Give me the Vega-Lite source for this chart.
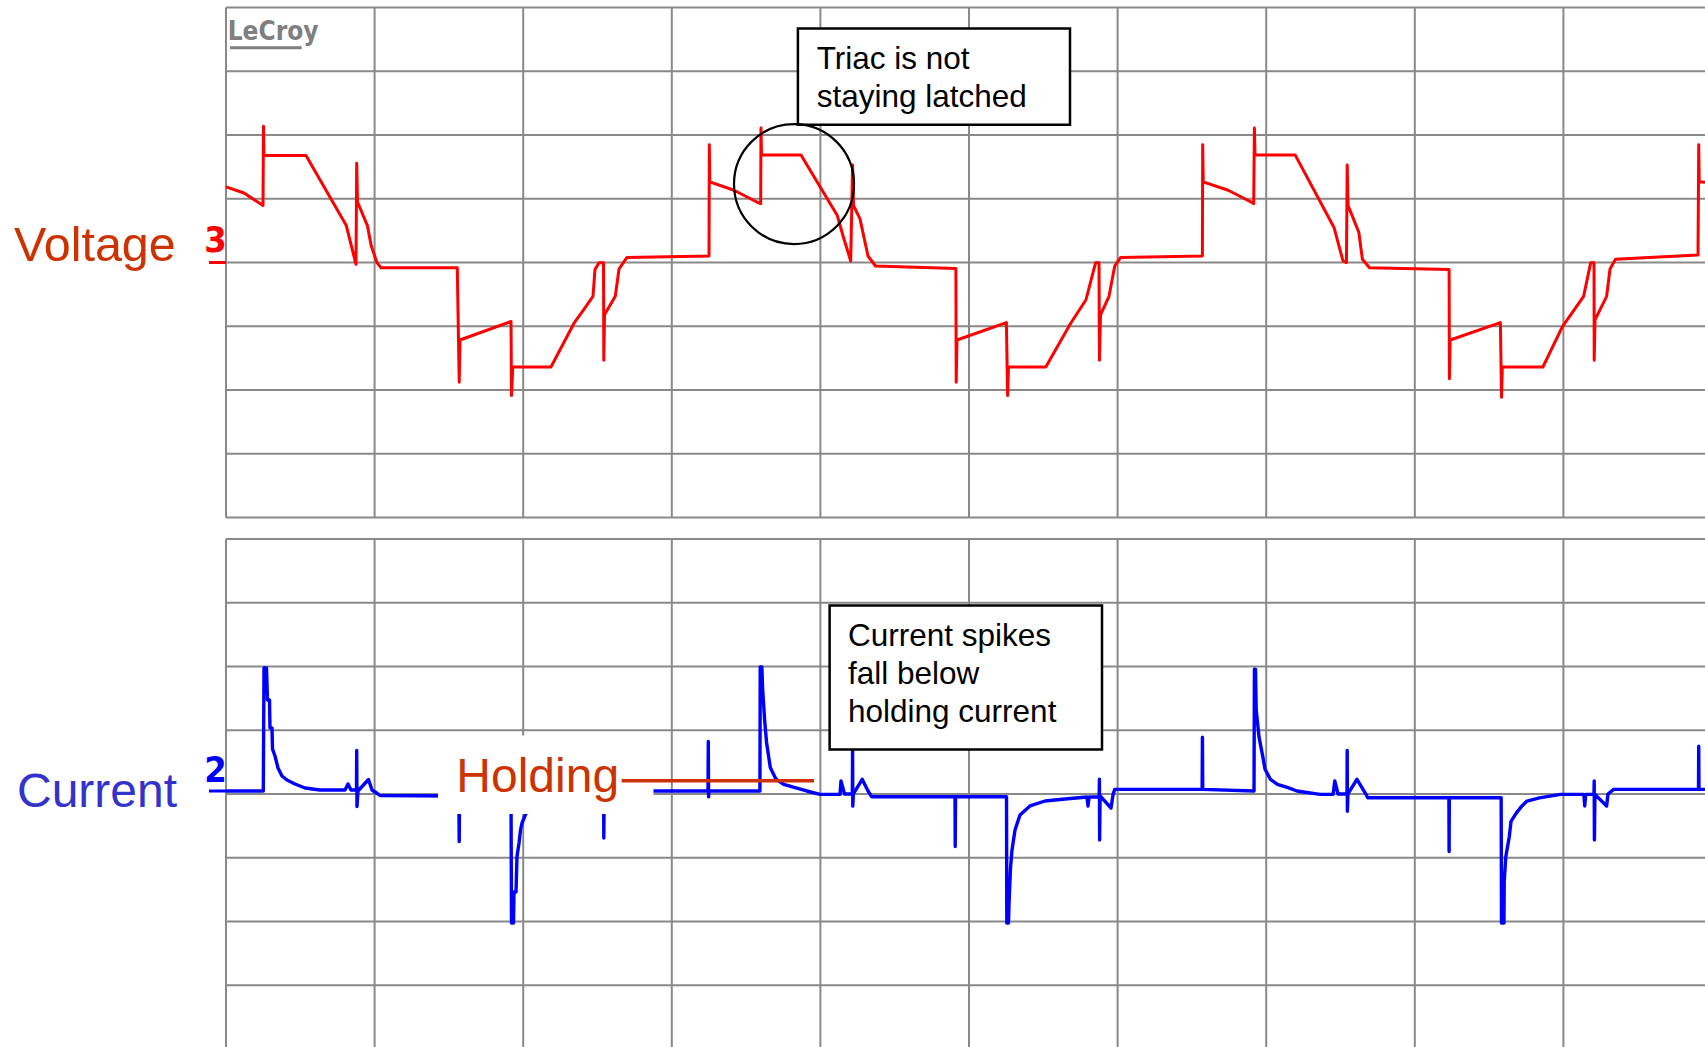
{
  "$schema": "https://vega.github.io/schema/vega-lite/v6.json",
  "description": "Triac voltage and current capture, 5 ms/div, two stacked scope panels (values in screen divisions).",
  "width": 1705,
  "height": 1047,
  "autosize": {"type": "none"},
  "padding": 0,
  "background": "#ffffff",
  "config": {"view": {"stroke": null}, "text": {"font": "Liberation Sans"}},
  "datasets": {
    "time_ticks": [{"t": 0}, {"t": 5}, {"t": 10}, {"t": 15}, {"t": 20}, {"t": 25}, {"t": 30}, {"t": 35}, {"t": 40}, {"t": 45}, {"t": 50}],
    "div_ticks": [{"d": -4}, {"d": -3}, {"d": -2}, {"d": -1}, {"d": 0}, {"d": 1}, {"d": 2}, {"d": 3}, {"d": 4}],
    "voltage": [
      {"t": 0, "v": 1.186}, {"t": 0.606, "v": 1.09}, {"t": 1.245, "v": 0.896}, {"t": 1.262, "v": 2.136}, {"t": 1.278, "v": 1.677},
      {"t": 2.692, "v": 1.677}, {"t": 4.048, "v": 0.579}, {"t": 4.374, "v": -0.028}, {"t": 4.398, "v": 1.556}, {"t": 4.425, "v": 0.949},
      {"t": 4.758, "v": 0.579}, {"t": 4.886, "v": 0.262}, {"t": 5.08, "v": -0.002}, {"t": 5.215, "v": -0.082}, {"t": 7.782, "v": -0.082},
      {"t": 7.847, "v": -1.878}, {"t": 7.874, "v": -1.216}, {"t": 9.59, "v": -0.925}, {"t": 9.606, "v": -2.088}, {"t": 9.65, "v": -1.639},
      {"t": 10.935, "v": -1.639}, {"t": 11.709, "v": -0.952}, {"t": 12.032, "v": -0.742}, {"t": 12.348, "v": -0.53}, {"t": 12.416, "v": -0.108},
      {"t": 12.55, "v": -0.002}, {"t": 12.702, "v": -0.002}, {"t": 12.712, "v": -1.534}, {"t": 12.736, "v": -0.82}, {"t": 13.099, "v": -0.53},
      {"t": 13.224, "v": -0.102}, {"t": 13.486, "v": 0.077}, {"t": 16.252, "v": 0.104}, {"t": 16.262, "v": 1.846}, {"t": 16.279, "v": 1.266},
      {"t": 17.093, "v": 1.134}, {"t": 17.864, "v": 0.949}, {"t": 17.991, "v": 0.922}, {"t": 18.001, "v": 2.11}, {"t": 18.018, "v": 1.688},
      {"t": 19.347, "v": 1.688}, {"t": 20.569, "v": 0.737}, {"t": 20.76, "v": 0.42}, {"t": 21.02, "v": 0.024}, {"t": 21.083, "v": 1.529},
      {"t": 21.114, "v": 0.896}, {"t": 21.332, "v": 0.684}, {"t": 21.602, "v": 0.102}, {"t": 21.854, "v": -0.055}, {"t": 24.559, "v": -0.093},
      {"t": 24.569, "v": -1.878}, {"t": 24.596, "v": -1.216}, {"t": 26.258, "v": -0.943}, {"t": 26.299, "v": -2.088}, {"t": 26.329, "v": -1.639},
      {"t": 27.584, "v": -1.639}, {"t": 28.422, "v": -0.952}, {"t": 28.937, "v": -0.584}, {"t": 29.26, "v": -0.002}, {"t": 29.374, "v": -0.002},
      {"t": 29.388, "v": -1.534}, {"t": 29.425, "v": -0.82}, {"t": 29.711, "v": -0.53}, {"t": 29.903, "v": -0.055}, {"t": 30.098, "v": 0.077},
      {"t": 32.853, "v": 0.104}, {"t": 32.863, "v": 1.846}, {"t": 32.88, "v": 1.266}, {"t": 33.72, "v": 1.134}, {"t": 34.49, "v": 0.949},
      {"t": 34.579, "v": 0.922}, {"t": 34.603, "v": 2.11}, {"t": 34.623, "v": 1.688}, {"t": 35.973, "v": 1.688}, {"t": 37.281, "v": 0.55},
      {"t": 37.584, "v": 0.024}, {"t": 37.7, "v": 0.0}, {"t": 37.725, "v": 1.529}, {"t": 37.753, "v": 0.896}, {"t": 38.116, "v": 0.474},
      {"t": 38.237, "v": 0.05}, {"t": 38.476, "v": -0.082}, {"t": 41.154, "v": -0.108}, {"t": 41.164, "v": -1.824}, {"t": 41.191, "v": -1.216},
      {"t": 42.88, "v": -0.943}, {"t": 42.917, "v": -2.115}, {"t": 42.944, "v": -1.639}, {"t": 44.31, "v": -1.639}, {"t": 44.966, "v": -1.005},
      {"t": 45.68, "v": -0.53}, {"t": 45.918, "v": -0.002}, {"t": 46.03, "v": -0.002}, {"t": 46.036, "v": -1.534}, {"t": 46.063, "v": -0.9},
      {"t": 46.454, "v": -0.53}, {"t": 46.568, "v": -0.102}, {"t": 46.753, "v": 0.05}, {"t": 49.529, "v": 0.119}, {"t": 49.553, "v": 1.846},
      {"t": 49.569, "v": 1.266}, {"t": 50.0, "v": 1.25}
    ],
    "current": [
      {"t": 0, "c": 0.047}, {"t": 1.255, "c": 0.047}, {"t": 1.279, "c": 1.976}, {"t": 1.363, "c": 1.976}, {"t": 1.396, "c": 1.475},
      {"t": 1.464, "c": 1.475}, {"t": 1.48, "c": 1.035}, {"t": 1.548, "c": 1.035}, {"t": 1.565, "c": 0.706}, {"t": 1.649, "c": 0.596},
      {"t": 1.75, "c": 0.408}, {"t": 1.884, "c": 0.282}, {"t": 2.052, "c": 0.22}, {"t": 2.322, "c": 0.157}, {"t": 2.658, "c": 0.094},
      {"t": 3.163, "c": 0.063}, {"t": 4.004, "c": 0.063}, {"t": 4.105, "c": 0.157}, {"t": 4.206, "c": 0.063}, {"t": 4.391, "c": 0.063},
      {"t": 4.398, "c": 0.681}, {"t": 4.408, "c": -0.196}, {"t": 4.441, "c": 0.047}, {"t": 4.795, "c": 0.227}, {"t": 4.913, "c": 0.063},
      {"t": 5.114, "c": 0.0}, {"t": 5.182, "c": -0.024}, {"t": 7.835, "c": -0.031}, {"t": 7.847, "c": -0.747}, {"t": 7.857, "c": -0.031},
      {"t": 9.59, "c": -0.031}, {"t": 9.606, "c": -2.024}, {"t": 9.674, "c": -2.024}, {"t": 9.69, "c": -1.537}, {"t": 9.758, "c": -1.537},
      {"t": 9.791, "c": -0.984}, {"t": 9.859, "c": -0.769}, {"t": 9.91, "c": -0.565}, {"t": 9.96, "c": -0.455}, {"t": 10.094, "c": -0.303},
      {"t": 10.296, "c": -0.188}, {"t": 10.565, "c": -0.11}, {"t": 11.07, "c": -0.063}, {"t": 11.743, "c": -0.031}, {"t": 12.698, "c": -0.016},
      {"t": 12.705, "c": 0.22}, {"t": 12.712, "c": -0.69}, {"t": 12.725, "c": 0.0}, {"t": 14.384, "c": 0.047}, {"t": 16.218, "c": 0.047},
      {"t": 16.228, "c": 0.824}, {"t": 16.238, "c": -0.044}, {"t": 16.25, "c": 0.047}, {"t": 17.965, "c": 0.047}, {"t": 17.975, "c": 1.991},
      {"t": 18.03, "c": 1.991}, {"t": 18.055, "c": 1.657}, {"t": 18.123, "c": 1.161}, {"t": 18.187, "c": 0.813}, {"t": 18.314, "c": 0.416},
      {"t": 18.506, "c": 0.231}, {"t": 18.765, "c": 0.152}, {"t": 19.145, "c": 0.099}, {"t": 19.539, "c": 0.047}, {"t": 19.987, "c": -0.006},
      {"t": 20.66, "c": -0.006}, {"t": 20.693, "c": 0.204}, {"t": 20.811, "c": 0.0}, {"t": 21.075, "c": 0.0}, {"t": 21.083, "c": 0.69},
      {"t": 21.09, "c": -0.191}, {"t": 21.11, "c": 0.0}, {"t": 21.406, "c": 0.231}, {"t": 21.602, "c": 0.047}, {"t": 21.726, "c": -0.044},
      {"t": 24.529, "c": -0.044}, {"t": 24.536, "c": -0.825}, {"t": 24.546, "c": -0.044}, {"t": 26.262, "c": -0.044}, {"t": 26.272, "c": -2.024},
      {"t": 26.329, "c": -2.024}, {"t": 26.346, "c": -1.725}, {"t": 26.396, "c": -1.161}, {"t": 26.447, "c": -0.878}, {"t": 26.548, "c": -0.565},
      {"t": 26.716, "c": -0.329}, {"t": 27.052, "c": -0.188}, {"t": 27.557, "c": -0.11}, {"t": 28.23, "c": -0.078}, {"t": 28.97, "c": -0.047},
      {"t": 29.004, "c": -0.188}, {"t": 29.04, "c": -0.047}, {"t": 29.38, "c": -0.047}, {"t": 29.388, "c": 0.231}, {"t": 29.395, "c": -0.72},
      {"t": 29.41, "c": -0.03}, {"t": 29.778, "c": -0.22}, {"t": 29.85, "c": 0.0}, {"t": 29.903, "c": 0.072}, {"t": 32.844, "c": 0.072},
      {"t": 32.854, "c": 0.891}, {"t": 32.864, "c": 0.072}, {"t": 34.59, "c": 0.047}, {"t": 34.603, "c": 1.958}, {"t": 34.64, "c": 1.958},
      {"t": 34.664, "c": 1.315}, {"t": 34.758, "c": 0.891}, {"t": 34.879, "c": 0.601}, {"t": 34.96, "c": 0.389}, {"t": 35.141, "c": 0.231},
      {"t": 35.377, "c": 0.152}, {"t": 35.734, "c": 0.099}, {"t": 36.033, "c": 0.047}, {"t": 36.81, "c": -0.006}, {"t": 37.25, "c": -0.006},
      {"t": 37.308, "c": 0.204}, {"t": 37.416, "c": 0.0}, {"t": 37.718, "c": 0.0}, {"t": 37.725, "c": 0.681}, {"t": 37.732, "c": -0.271},
      {"t": 37.75, "c": 0.0}, {"t": 38.055, "c": 0.231}, {"t": 38.358, "c": -0.006}, {"t": 38.415, "c": -0.06}, {"t": 41.147, "c": -0.06},
      {"t": 41.154, "c": -0.904}, {"t": 41.161, "c": -0.06}, {"t": 42.905, "c": -0.06}, {"t": 42.917, "c": -2.024}, {"t": 43.0, "c": -2.024},
      {"t": 43.008, "c": -1.38}, {"t": 43.062, "c": -0.984}, {"t": 43.18, "c": -0.667}, {"t": 43.237, "c": -0.43}, {"t": 43.419, "c": -0.296},
      {"t": 43.597, "c": -0.191}, {"t": 43.775, "c": -0.111}, {"t": 44.193, "c": -0.06}, {"t": 44.906, "c": -0.006}, {"t": 45.69, "c": -0.006},
      {"t": 45.717, "c": -0.188}, {"t": 45.75, "c": -0.006}, {"t": 46.03, "c": -0.006}, {"t": 46.036, "c": 0.204}, {"t": 46.043, "c": -0.72},
      {"t": 46.06, "c": -0.006}, {"t": 46.454, "c": -0.188}, {"t": 46.5, "c": 0.0}, {"t": 46.692, "c": 0.072}, {"t": 49.545, "c": 0.072},
      {"t": 49.553, "c": 0.748}, {"t": 49.561, "c": 0.072}, {"t": 50.0, "c": 0.072}
    ]
  },
  "resolve": {"scale": {"y": "independent"}},
  "layer": [
    {
      "description": "voltage panel: vertical divisions",
      "data": {"name": "time_ticks"},
      "mark": {"type": "rule", "color": "#898989", "strokeWidth": 2},
      "encoding": {
        "x": {"field": "t", "type": "quantitative", "scale": {"domain": [-7.604, 49.764], "nice": false, "zero": false}, "axis": null},
        "y": {"datum": -4, "type": "quantitative", "scale": {"domain": [-12.306, 4.118], "nice": false, "zero": false}, "axis": null},
        "y2": {"datum": 4}
      }
    },
    {
      "description": "voltage panel: horizontal divisions",
      "data": {"name": "div_ticks"},
      "mark": {"type": "rule", "color": "#898989", "strokeWidth": 2},
      "encoding": {
        "x": {"datum": 0, "type": "quantitative", "scale": {"domain": [-7.604, 49.764], "nice": false, "zero": false}, "axis": null},
        "x2": {"datum": 50},
        "y": {"field": "d", "type": "quantitative", "scale": {"domain": [-12.306, 4.118], "nice": false, "zero": false}, "axis": null}
      }
    },
    {
      "description": "current panel: vertical divisions",
      "data": {"name": "time_ticks"},
      "mark": {"type": "rule", "color": "#898989", "strokeWidth": 2},
      "encoding": {
        "x": {"field": "t", "type": "quantitative", "scale": {"domain": [-7.604, 49.764], "nice": false, "zero": false}, "axis": null},
        "y": {"datum": -4, "type": "quantitative", "scale": {"domain": [-3.969, 12.455], "nice": false, "zero": false}, "axis": null},
        "y2": {"datum": 4}
      }
    },
    {
      "description": "current panel: horizontal divisions",
      "data": {"name": "div_ticks"},
      "mark": {"type": "rule", "color": "#898989", "strokeWidth": 2},
      "encoding": {
        "x": {"datum": 0, "type": "quantitative", "scale": {"domain": [-7.604, 49.764], "nice": false, "zero": false}, "axis": null},
        "x2": {"datum": 50},
        "y": {"field": "d", "type": "quantitative", "scale": {"domain": [-3.969, 12.455], "nice": false, "zero": false}, "axis": null}
      }
    },
    {
      "description": "channel 3: voltage trace",
      "data": {"name": "voltage"},
      "mark": {"type": "line", "color": "#ff0000", "strokeWidth": 3, "strokeJoin": "round"},
      "encoding": {
        "x": {"field": "t", "type": "quantitative", "scale": {"domain": [-7.604, 49.764], "nice": false, "zero": false}, "axis": null},
        "y": {"field": "v", "type": "quantitative", "scale": {"domain": [-12.306, 4.118], "nice": false, "zero": false}, "axis": null}
      }
    },
    {
      "description": "channel 2: current trace",
      "data": {"name": "current"},
      "mark": {"type": "line", "color": "#0000ff", "strokeWidth": 3.4, "strokeJoin": "round"},
      "encoding": {
        "x": {"field": "t", "type": "quantitative", "scale": {"domain": [-7.604, 49.764], "nice": false, "zero": false}, "axis": null},
        "y": {"field": "c", "type": "quantitative", "scale": {"domain": [-3.969, 12.455], "nice": false, "zero": false}, "axis": null}
      }
    },
    {
      "description": "white backing behind the Holding label",
      "data": {"values": [{}]},
      "mark": {"type": "rect", "fill": "#ffffff"},
      "encoding": {
        "x": {"datum": 7.133, "type": "quantitative", "scale": {"domain": [-7.604, 49.764], "nice": false, "zero": false}, "axis": null},
        "x2": {"datum": 14.384},
        "y": {"datum": 0.918, "type": "quantitative", "scale": {"domain": [-3.969, 12.455], "nice": false, "zero": false}, "axis": null},
        "y2": {"datum": -0.314}
      }
    },
    {
      "description": "holding current level",
      "data": {"values": [{"from": 13.314, "to": 19.785, "level": 0.209}]},
      "mark": {"type": "rule", "color": "#cc3300", "strokeWidth": 3.5},
      "encoding": {
        "x": {"field": "from", "type": "quantitative", "scale": {"domain": [-7.604, 49.764], "nice": false, "zero": false}, "axis": null},
        "x2": {"field": "to"},
        "y": {"field": "level", "type": "quantitative", "scale": {"domain": [-3.969, 12.455], "nice": false, "zero": false}, "axis": null}
      }
    },
    {
      "description": "Holding label",
      "data": {"values": [{"label": "Holding", "t": 7.749, "c": 0.036}]},
      "mark": {"type": "text", "align": "left", "baseline": "alphabetic", "fontSize": 48, "color": "#cc3300"},
      "encoding": {
        "x": {"field": "t", "type": "quantitative", "scale": {"domain": [-7.604, 49.764], "nice": false, "zero": false}, "axis": null},
        "y": {"field": "c", "type": "quantitative", "scale": {"domain": [-3.969, 12.455], "nice": false, "zero": false}, "axis": null},
        "text": {"field": "label"}
      }
    },
    {
      "description": "callout box, voltage panel",
      "data": {"values": [{"t": 19.243, "t2": 28.398, "v": 3.669, "v2": 2.16}]},
      "mark": {"type": "rect", "fill": "#ffffff", "stroke": "#000000", "strokeWidth": 2.5},
      "encoding": {
        "x": {"field": "t", "type": "quantitative", "scale": {"domain": [-7.604, 49.764], "nice": false, "zero": false}, "axis": null},
        "x2": {"field": "t2"},
        "y": {"field": "v", "type": "quantitative", "scale": {"domain": [-12.306, 4.118], "nice": false, "zero": false}, "axis": null},
        "y2": {"field": "v2"}
      }
    },
    {
      "description": "callout text, voltage panel",
      "data": {"values": [{"line": "Triac is not", "t": 19.876, "v": 3.035}, {"line": "staying latched", "t": 19.876, "v": 2.439}]},
      "mark": {"type": "text", "align": "left", "baseline": "alphabetic", "fontSize": 31.5, "color": "#000000"},
      "encoding": {
        "x": {"field": "t", "type": "quantitative", "scale": {"domain": [-7.604, 49.764], "nice": false, "zero": false}, "axis": null},
        "y": {"field": "v", "type": "quantitative", "scale": {"domain": [-12.306, 4.118], "nice": false, "zero": false}, "axis": null},
        "text": {"field": "line"}
      }
    },
    {
      "description": "ring around the unlatching edge",
      "data": {"values": [{"t": 19.112, "v": 1.231}]},
      "mark": {"type": "point", "shape": "circle", "filled": false, "size": 14400, "stroke": "#000000", "strokeWidth": 2.2, "opacity": 1},
      "encoding": {
        "x": {"field": "t", "type": "quantitative", "scale": {"domain": [-7.604, 49.764], "nice": false, "zero": false}, "axis": null},
        "y": {"field": "v", "type": "quantitative", "scale": {"domain": [-12.306, 4.118], "nice": false, "zero": false}, "axis": null}
      }
    },
    {
      "description": "callout box, current panel",
      "data": {"values": [{"t": 20.31, "t2": 29.475, "c": 2.957, "c2": 0.698}]},
      "mark": {"type": "rect", "fill": "#ffffff", "stroke": "#000000", "strokeWidth": 2.5},
      "encoding": {
        "x": {"field": "t", "type": "quantitative", "scale": {"domain": [-7.604, 49.764], "nice": false, "zero": false}, "axis": null},
        "x2": {"field": "t2"},
        "y": {"field": "c", "type": "quantitative", "scale": {"domain": [-3.969, 12.455], "nice": false, "zero": false}, "axis": null},
        "y2": {"field": "c2"}
      }
    },
    {
      "description": "callout text, current panel",
      "data": {"values": [{"line": "Current spikes", "t": 20.929, "c": 2.317}, {"line": "fall below", "t": 20.929, "c": 1.725}, {"line": "holding current", "t": 20.929, "c": 1.129}]},
      "mark": {"type": "text", "align": "left", "baseline": "alphabetic", "fontSize": 31.5, "color": "#000000"},
      "encoding": {
        "x": {"field": "t", "type": "quantitative", "scale": {"domain": [-7.604, 49.764], "nice": false, "zero": false}, "axis": null},
        "y": {"field": "c", "type": "quantitative", "scale": {"domain": [-3.969, 12.455], "nice": false, "zero": false}, "axis": null},
        "text": {"field": "line"}
      }
    },
    {
      "description": "Voltage channel name",
      "data": {"values": [{"label": "Voltage", "t": -7.133, "v": 0.024}]},
      "mark": {"type": "text", "align": "left", "baseline": "alphabetic", "fontSize": 48.5, "color": "#cc3300"},
      "encoding": {
        "x": {"field": "t", "type": "quantitative", "scale": {"domain": [-7.604, 49.764], "nice": false, "zero": false}, "axis": null},
        "y": {"field": "v", "type": "quantitative", "scale": {"domain": [-12.306, 4.118], "nice": false, "zero": false}, "axis": null},
        "text": {"field": "label"}
      }
    },
    {
      "description": "Current channel name",
      "data": {"values": [{"label": "Current", "t": -7.032, "c": -0.209}]},
      "mark": {"type": "text", "align": "left", "baseline": "alphabetic", "fontSize": 48, "color": "#3333cc"},
      "encoding": {
        "x": {"field": "t", "type": "quantitative", "scale": {"domain": [-7.604, 49.764], "nice": false, "zero": false}, "axis": null},
        "y": {"field": "c", "type": "quantitative", "scale": {"domain": [-3.969, 12.455], "nice": false, "zero": false}, "axis": null},
        "text": {"field": "label"}
      }
    },
    {
      "description": "channel 3 ground marker",
      "data": {"values": [{"ch": "3", "t": 0.03, "v": 0.169}]},
      "mark": {"type": "text", "align": "right", "baseline": "alphabetic", "fontSize": 36, "fontWeight": "bold", "font": "DejaVu Sans Condensed, Liberation Sans, sans-serif", "color": "#ff0000"},
      "encoding": {
        "x": {"field": "t", "type": "quantitative", "scale": {"domain": [-7.604, 49.764], "nice": false, "zero": false}, "axis": null},
        "y": {"field": "v", "type": "quantitative", "scale": {"domain": [-12.306, 4.118], "nice": false, "zero": false}, "axis": null},
        "text": {"field": "ch"}
      }
    },
    {
      "description": "channel 3 ground tick",
      "data": {"values": [{"from": -0.572, "to": 0.0, "level": 0.0}]},
      "mark": {"type": "rule", "color": "#ff0000", "strokeWidth": 3},
      "encoding": {
        "x": {"field": "from", "type": "quantitative", "scale": {"domain": [-7.604, 49.764], "nice": false, "zero": false}, "axis": null},
        "x2": {"field": "to"},
        "y": {"field": "level", "type": "quantitative", "scale": {"domain": [-12.306, 4.118], "nice": false, "zero": false}, "axis": null}
      }
    },
    {
      "description": "channel 2 ground marker",
      "data": {"values": [{"ch": "2", "t": 0.03, "c": 0.193}]},
      "mark": {"type": "text", "align": "right", "baseline": "alphabetic", "fontSize": 36, "fontWeight": "bold", "font": "DejaVu Sans Condensed, Liberation Sans, sans-serif", "color": "#0000ff"},
      "encoding": {
        "x": {"field": "t", "type": "quantitative", "scale": {"domain": [-7.604, 49.764], "nice": false, "zero": false}, "axis": null},
        "y": {"field": "c", "type": "quantitative", "scale": {"domain": [-3.969, 12.455], "nice": false, "zero": false}, "axis": null},
        "text": {"field": "ch"}
      }
    },
    {
      "description": "channel 2 ground tick",
      "data": {"values": [{"from": -0.572, "to": 0.0, "level": 0.047}]},
      "mark": {"type": "rule", "color": "#0000ff", "strokeWidth": 3},
      "encoding": {
        "x": {"field": "from", "type": "quantitative", "scale": {"domain": [-7.604, 49.764], "nice": false, "zero": false}, "axis": null},
        "x2": {"field": "to"},
        "y": {"field": "level", "type": "quantitative", "scale": {"domain": [-3.969, 12.455], "nice": false, "zero": false}, "axis": null}
      }
    },
    {
      "description": "scope brand mark",
      "data": {"values": [{"brand": "LeCroy", "t": 0.057, "v": 3.49}]},
      "mark": {"type": "text", "align": "left", "baseline": "alphabetic", "fontSize": 26, "fontWeight": "bold", "font": "DejaVu Sans Condensed, Liberation Sans, sans-serif", "color": "#7f7f7f"},
      "encoding": {
        "x": {"field": "t", "type": "quantitative", "scale": {"domain": [-7.604, 49.764], "nice": false, "zero": false}, "axis": null},
        "y": {"field": "v", "type": "quantitative", "scale": {"domain": [-12.306, 4.118], "nice": false, "zero": false}, "axis": null},
        "text": {"field": "brand"}
      }
    },
    {
      "description": "brand underline",
      "data": {"values": [{"from": 0.135, "to": 2.547, "level": 3.369}]},
      "mark": {"type": "rule", "color": "#7f7f7f", "strokeWidth": 3},
      "encoding": {
        "x": {"field": "from", "type": "quantitative", "scale": {"domain": [-7.604, 49.764], "nice": false, "zero": false}, "axis": null},
        "x2": {"field": "to"},
        "y": {"field": "level", "type": "quantitative", "scale": {"domain": [-12.306, 4.118], "nice": false, "zero": false}, "axis": null}
      }
    }
  ]
}
